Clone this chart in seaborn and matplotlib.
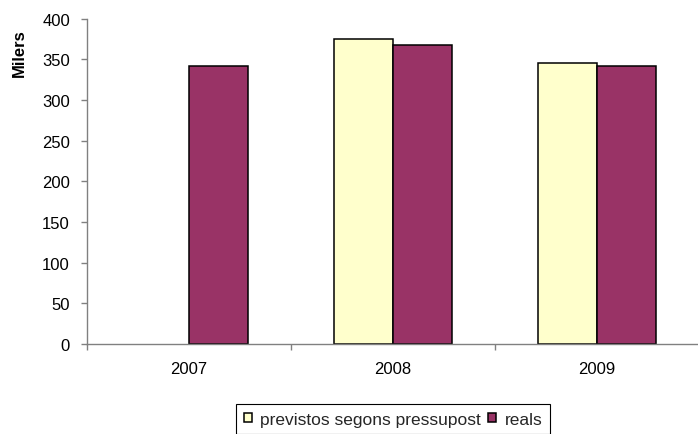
import matplotlib
matplotlib.use("Agg")
import matplotlib.pyplot as plt
from matplotlib.ticker import FixedLocator
import pandas as pd
import seaborn as sns

# Data (thousands)
years = ["2007", "2008", "2009"]
series_names = ["previstos segons pressupost", "reals"]
previstos = [None, 375, 346]
reals = [342, 368, 342]
y_ticks = [0, 50, 100, 150, 200, 250, 300, 350, 400]
colors = ["#FFFFCC", "#993366"]

rows = []
for yr, p, r in zip(years, previstos, reals):
    if p is not None:
        rows.append({"any": yr, "serie": series_names[0], "valor": p})
    rows.append({"any": yr, "serie": series_names[1], "valor": r})
df = pd.DataFrame(rows)

sns.set_theme(style="white")
plt.rcParams["font.family"] = ["Liberation Sans", "DejaVu Sans"]

fig = plt.figure(figsize=(6.98, 4.35), dpi=100)
ax = fig.add_axes([0.125, 0.207, 0.876, 0.748])

sns.barplot(
    data=df, x="any", y="valor", hue="serie",
    order=years, hue_order=series_names,
    palette=colors, width=0.58, edgecolor="black", linewidth=1.1,
    errorbar=None, saturation=1, ax=ax, legend=True,
)

ax.set_xlim(-0.5, 2.5)
ax.set_ylim(0, 400)
ax.set_yticks(y_ticks)
ax.set_yticklabels([str(v) for v in y_ticks])
ax.set_xlabel("")
ax.set_ylabel("Milers", fontsize=12, fontweight="bold", color="black")
ax.yaxis.set_label_coords(-0.098, 0.897)

# Spines: only left and bottom, grey
for side in ["top", "right"]:
    ax.spines[side].set_visible(False)
for side in ["left", "bottom"]:
    ax.spines[side].set_color("#808080")
    ax.spines[side].set_linewidth(1.0)

ax.tick_params(axis="y", which="major", direction="out", length=4,
               width=1.0, color="#808080", labelsize=12, labelcolor="black",
               pad=8.5, left=True)
ax.tick_params(axis="x", which="major", length=0, labelsize=12,
               labelcolor="black", pad=12)
ax.xaxis.set_minor_locator(FixedLocator([-0.5, 0.5, 1.5, 2.5]))
ax.tick_params(axis="x", which="minor", direction="out", length=4,
               width=1.0, color="#808080", bottom=True)

handles, labels = ax.get_legend_handles_labels()
ax.legend(
    handles, labels, loc="upper center", bbox_to_anchor=(0.5, -0.184),
    ncol=2, fontsize=12.5, frameon=True, fancybox=False, framealpha=1,
    edgecolor="black", borderaxespad=0, borderpad=0.45,
    handlelength=0.45, handleheight=0.45, handletextpad=0.5,
    columnspacing=0.4,
)
ax.get_legend().get_frame().set_linewidth(0.8)

fig.savefig("out.png", dpi=100)
